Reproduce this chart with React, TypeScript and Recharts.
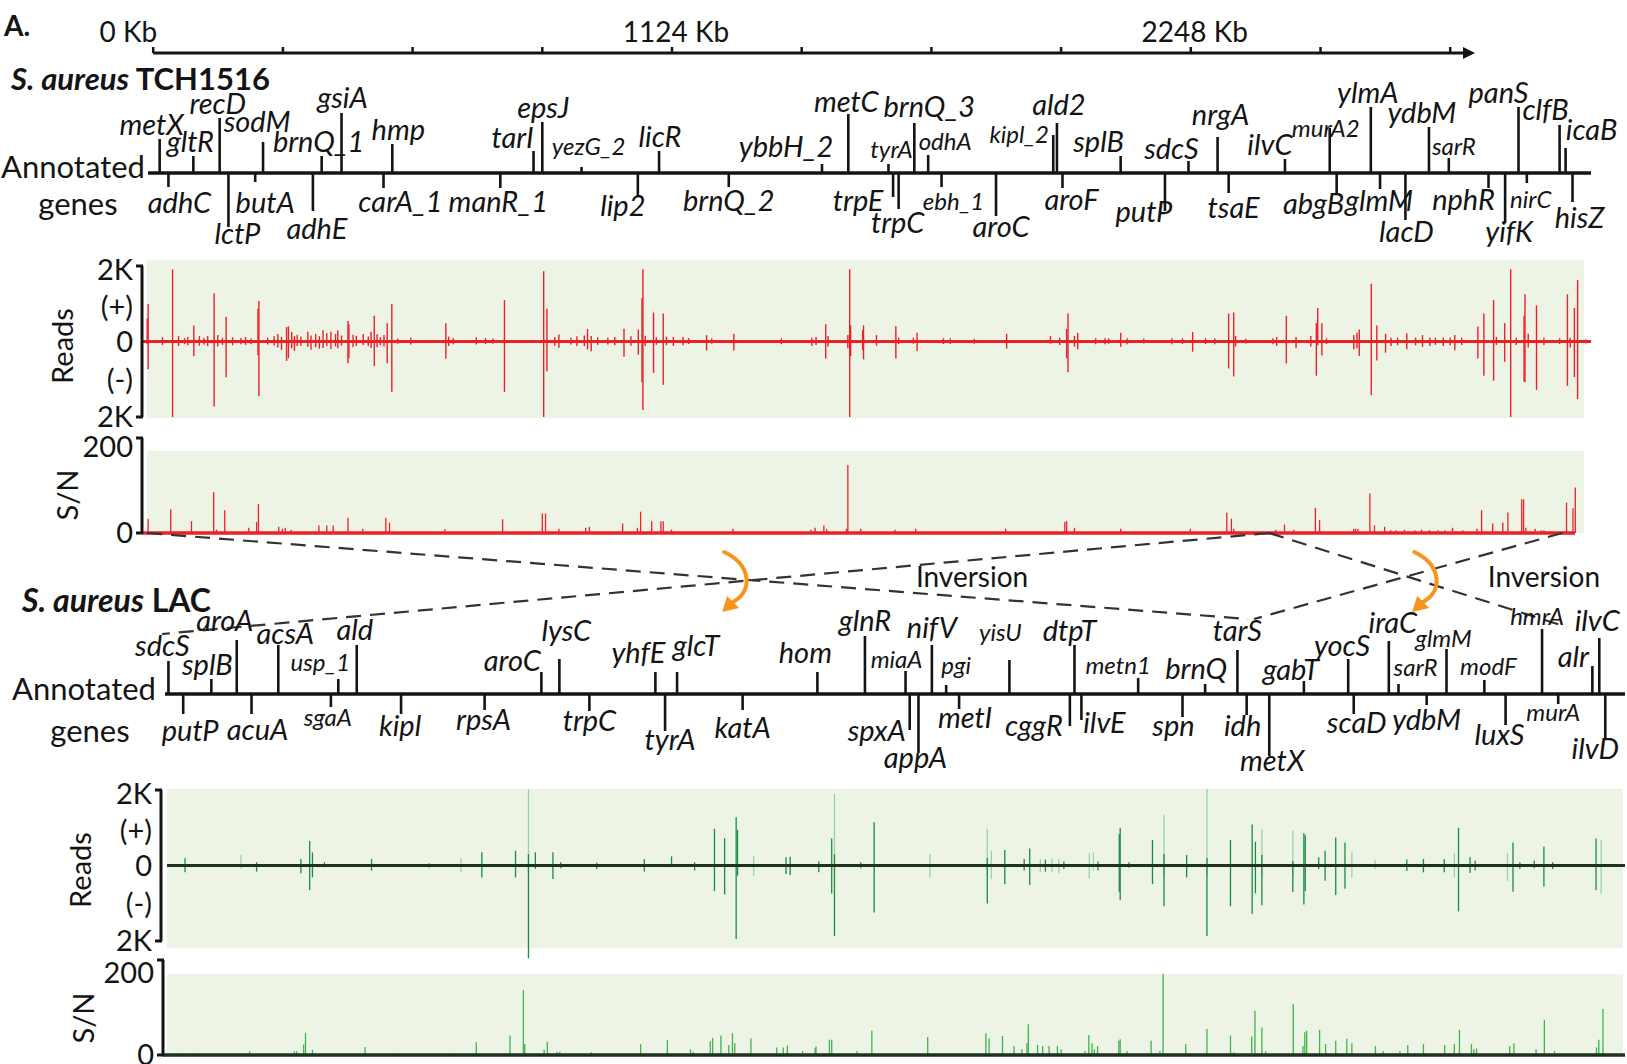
import React from 'react'
import {
  ComposedChart,
  XAxis,
  YAxis,
  Scatter,
  Line,
  ReferenceLine,
  ReferenceArea,
} from 'recharts'

const W = 1627
const H = 1064
const FONT = 'Lato, "Open Sans", "DejaVu Sans", sans-serif'
const INK = '#141414'
const BG = '#eef4e5'
const RED = '#ec2027'
const GREEN = '#178c45'
const GREEN_LIGHT = '#9ad2a6'
const GREEN_SN = '#3cb54b'
const LAC_ZERO = '#1e3224'
const ORANGE = '#f7941d'

// one ruler for the whole figure: 281 Kb between ticks, 0 Kb sits at x = 153.2
const KB_PER_PX = 281 / 129.7
const kbAt = (px: number) => (px - 153.2) * KB_PER_PX

// ---- ruler ----
const rulerTicks = [0, 281, 562, 843, 1124, 1405, 1686, 1967, 2248, 2529, 2810]
const rulerLabels = ['0 Kb', '', '', '', '1124 Kb', '', '', '', '2248 Kb', '', '']

// ---- S. aureus TCH1516 annotated genes (Kb on the ruler, 1 = above line, -1 = below) ----
const tchGeneNames = [
  'metX', 'gltR', 'recD', 'sodM', 'brnQ_1', 'gsiA', 'hmp', 'tarI', 'epsJ', 'yezG_2', 'licR',
  'ybbH_2', 'metC', 'tyrA', 'brnQ_3', 'odhA', 'kipl_2', 'ald2', 'splB', 'sdcS', 'nrgA', 'ilvC',
  'murA2', 'ylmA', 'ydbM', 'sarR', 'panS', 'clfB', 'icaB',
  'adhC', 'lctP', 'butA', 'adhE', 'carA_1', 'manR_1', 'lip2', 'brnQ_2', 'trpE', 'trpC', 'ebh_1',
  'aroC', 'aroF', 'putP', 'tsaE', 'abgB', 'glmM', 'lacD', 'nphR', 'yifK', 'nirC', 'hisZ',
]
const tchGeneKb = [
  14, 87, 144, 238, 365, 408, 518, 824, 843, 928, 1096,
  1449, 1506, 1593, 1649, 1679, 1950, 1958, 2096, 2243, 2306, 2452,
  2549, 2638, 2764, 2807, 2958, 3047, 3060,
  33, 163, 221, 346, 499, 752, 1050, 1247, 1603, 1615, 1708,
  1826, 1970, 2192, 2330, 2564, 2658, 2713, 2893, 2929, 2976, 3075,
]
const tchGeneStrand = [
  1, 1, 1, 1, 1, 1, 1, 1, 1, 1, 1,
  1, 1, 1, 1, 1, 1, 1, 1, 1, 1, 1,
  1, 1, 1, 1, 1, 1, 1,
  -1, -1, -1, -1, -1, -1, -1, -1, -1, -1, -1,
  -1, -1, -1, -1, -1, -1, -1, -1, -1, -1, -1,
]
// layout only: [stem px, label dx, label baseline dy, small font]
const tchGeneLayout: Record<string, [number, number, number, number?]> = {
  metX: [34, -8, -38], gltR: [17, -3, -21], recD: [55, -2, -59], sodM: [31, -6, -41],
  brnQ_1: [17, -3, -21], gsiA: [60, 1, -65], hmp: [29, 6, -33], tarI: [22, -21, -25],
  epsJ: [51, 1, -55], yezG_2: [6, 7, -18, 1], licR: [22, 1, -26], ybbH_2: [9, -36, -16],
  metC: [59, -2, -61], tyrA: [9, 3, -15, 1], brnQ_3: [50, 15, -56], odhA: [18, 17, -23, 1],
  kipl_2: [38, -34, -30, 1], ald2: [50, 2, -58], splB: [17, -22, -21], sdcS: [12, -17, -14],
  nrgA: [36, 3, -48], ilvC: [14, -15, -18], murA2: [45, -4, -36, 1], ylmA: [66, -3, -70],
  ydbM: [46, -7, -50], sarR: [15, 5, -18, 1], panS: [66, -20, -70], clfB: [48, -14, -53],
  icaB: [25, 26, -33],
  adhC: [14, 11, 40], lctP: [54, 9, 71], butA: [9, 10, 40], adhE: [38, 4, 66],
  carA_1: [15, 17, 39], manR_1: [15, -2, 39], lip2: [24, -15, 43], brnQ_2: [14, 0, 38],
  trpE: [24, -35, 38], trpC: [36, -1, 60], ebh_1: [14, 12, 37, 1], aroC: [43, 5, 64],
  aroF: [15, 9, 37], putP: [38, -21, 49], tsaE: [20, 5, 45], abgB: [20, -23, 41],
  glmM: [16, -1, 38], lacD: [47, 1, 69], nphR: [15, -25, 37], yifK: [50, 4, 69],
  nirC: [10, 4, 35, 1], hisZ: [29, 7, 55],
}

// ---- S. aureus LAC annotated genes ----
const lacGeneNames = [
  'sdcS', 'splB', 'aroA', 'acsA', 'usp_1', 'ald', 'aroC', 'lysC', 'yhfE', 'glcT', 'hom',
  'glnR', 'miaA', 'nifV', 'pgi', 'yisU', 'dtpT', 'metn1', 'brnQ', 'tarS', 'gabT', 'yocS',
  'iraC', 'sarR', 'glmM', 'modF', 'hmrA', 'alr', 'ilvC',
  'putP', 'acuA', 'sgaA', 'kipl', 'rpsA', 'trpC', 'tyrA', 'katA', 'spxA', 'appA', 'metI',
  'cggR', 'ilvE', 'spn', 'idh', 'metX', 'scaD', 'ydbM', 'luxS', 'murA', 'ilvD',
]
const lacGeneKb = [
  33, 126, 181, 271, 401, 441, 841, 880, 1088, 1135, 1439,
  1542, 1630, 1687, 1718, 1855, 1996, 2134, 2279, 2349, 2493, 2589,
  2677, 2698, 2802, 2884, 3009, 3118, 3133,
  65, 213, 385, 537, 718, 945, 1109, 1277, 1639, 1658, 1746,
  1986, 2011, 2230, 2369, 2418, 2601, 2759, 2930, 3044, 3146,
]
const lacGeneStrand = [
  1, 1, 1, 1, 1, 1, 1, 1, 1, 1, 1,
  1, 1, 1, 1, 1, 1, 1, 1, 1, 1, 1,
  1, 1, 1, 1, 1, 1, 1,
  -1, -1, -1, -1, -1, -1, -1, -1, -1, -1, -1,
  -1, -1, -1, -1, -1, -1, -1, -1, -1, -1,
]
const lacGeneLayout: Record<string, [number, number, number, number?]> = {
  sdcS: [33, -6, -38], splB: [15, -4, -19], aroA: [54, -12, -63], acsA: [49, 7, -50],
  usp_1: [15, -18, -23, 1], ald: [49, -2, -54], aroC: [22, -29, -23], lysC: [35, 7, -53],
  yhfE: [22, -17, -31], glcT: [22, 19, -38], hom: [22, -12, -31], glnR: [58, 0, -63],
  miaA: [23, -9, -26, 1], nifV: [49, 0, -56], pgi: [9, 10, -20, 1], yisU: [34, -9, -53, 1],
  dtpT: [49, -5, -53], metn1: [16, -20, -20, 1], brnQ: [10, -9, -15], tarS: [44, 0, -53],
  gabT: [13, -13, -14], yocS: [35, -6, -38], iraC: [53, 4, -61], sarR: [10, 17, -18, 1],
  glmM: [45, -3, -47, 1], modF: [14, 4, -19, 1], hmrA: [65, -5, -69, 1], alr: [28, -19, -27],
  ilvC: [56, -2, -63],
  putP: [20, 7, 47], acuA: [20, 6, 46], sgaA: [13, -3, 32, 1], kipl: [20, -1, 42],
  rpsA: [16, -1, 36], trpC: [17, 0, 37], tyrA: [37, 5, 56], katA: [16, 0, 44],
  spxA: [36, -33, 47], appA: [59, -3, 74], metI: [15, 6, 34], cggR: [32, -36, 42],
  ilvE: [26, 23, 39], spn: [23, -9, 42], idh: [21, -4, 42], metX: [62, 3, 77],
  scaD: [20, 3, 39], ydbM: [11, 0, 36], luxS: [31, -6, 51], murA: [10, -5, 27, 1],
  ilvD: [45, -10, 65],
}

// ---- TCH1516 reads: [Kb, reads (+), reads (-)] ----
const tchReads: [number, number, number][] = [
  [-13, 613, 73], [-11, 996, 734], [20, 110, 90], [42, 1906, 2000], [55, 150, 120], [68, 90, 70],
  [75, 120, 100], [88, 426, 394], [100, 140, 110], [110, 90, 80], [118, 150, 120], [132, 1277, 1725],
  [140, 170, 130], [150, 100, 90], [158, 655, 945], [172, 110, 100], [190, 90, 70], [200, 120, 90],
  [212, 80, 70], [227, 868, 367], [229, 1072, 1450], [248, 100, 80], [262, 140, 100], [270, 200, 160],
  [278, 120, 220], [289, 383, 514], [293, 400, 440], [300, 250, 180], [306, 150, 250], [312, 180, 120],
  [320, 130, 110], [335, 260, 140], [342, 160, 220], [352, 200, 150], [360, 140, 190], [368, 300, 170],
  [376, 220, 120], [385, 260, 200], [395, 200, 130], [400, 300, 180], [408, 160, 110], [422, 545, 578],
  [424, 460, 440], [433, 180, 150], [440, 150, 120], [455, 200, 90], [466, 130, 110], [472, 260, 170],
  [479, 681, 651], [485, 190, 150], [492, 110, 90], [500, 170, 130], [507, 485, 578], [517, 996, 1339],
  [530, 80, 60], [558, 100, 80], [634, 485, 459], [640, 130, 120], [650, 90, 70], [700, 110, 80],
  [720, 90, 70], [736, 80, 60], [761, 1098, 1339], [846, 1864, 2000], [853, 868, 789], [870, 120, 110],
  [879, 187, 165], [905, 100, 80], [918, 140, 120], [934, 160, 120], [941, 332, 211], [949, 145, 257],
  [963, 110, 90], [985, 100, 80], [1000, 120, 100], [1020, 340, 404], [1035, 140, 110], [1051, 315, 349],
  [1059, 1149, 1083], [1061, 1915, 1817], [1066, 150, 120], [1084, 766, 835], [1090, 110, 90],
  [1105, 740, 1147], [1112, 130, 100], [1127, 119, 119], [1148, 119, 100], [1160, 90, 70], [1199, 170, 239],
  [1210, 80, 60], [1258, 204, 239], [1361, 85, 73], [1427, 102, 117], [1436, 119, 92], [1457, 460, 448],
  [1462, 145, 135], [1505, 170, 179], [1509, 1915, 2000], [1511, 426, 386], [1537, 298, 233],
  [1539, 426, 475], [1567, 170, 110], [1609, 409, 448], [1615, 102, 70], [1647, 102, 60], [1655, 230, 251],
  [1712, 85, 70], [1727, 85, 70], [1779, 70, 60], [1849, 204, 188], [1944, 145, 60], [1964, 102, 90],
  [1979, 332, 448], [1982, 740, 816], [1996, 145, 135], [2003, 230, 206], [2042, 85, 70], [2062, 85, 70],
  [2070, 85, 60], [2096, 230, 143], [2110, 85, 70], [2146, 70, 50], [2207, 85, 70], [2230, 85, 70],
  [2252, 255, 269], [2280, 85, 70], [2300, 85, 70], [2330, 740, 717], [2341, 766, 924], [2345, 145, 135],
  [2367, 70, 50], [2426, 85, 70], [2434, 119, 120], [2455, 681, 583], [2476, 119, 179], [2508, 145, 135],
  [2520, 485, 906], [2523, 885, 100], [2532, 485, 368], [2542, 85, 70], [2601, 170, 206], [2608, 230, 179],
  [2613, 315, 386], [2639, 1532, 1417], [2651, 426, 502], [2670, 204, 296], [2682, 102, 117],
  [2696, 102, 100], [2716, 221, 206], [2735, 102, 100], [2750, 170, 143], [2766, 102, 117], [2778, 102, 90],
  [2795, 102, 117], [2810, 102, 100], [2820, 170, 233], [2835, 102, 90], [2870, 400, 448], [2883, 740, 906],
  [2904, 1098, 1040], [2910, 119, 90], [2928, 485, 538], [2941, 1915, 2000], [2953, 102, 90],
  [2970, 681, 1058], [2972, 1251, 1076], [2979, 204, 162], [2997, 953, 1283], [3013, 102, 90],
  [3047, 85, 70], [3064, 1251, 1175], [3070, 102, 162], [3079, 885, 942], [3086, 1634, 1525],
  [3104, 51, 50],
]

// ---- TCH1516 S/N: [Kb, S/N] ----
const tchSN: [number, number][] = [
  [-11, 30], [38, 50], [83, 25], [131, 86], [137, 7], [155, 48], [207, 11], [224, 23], [228, 61],
  [272, 13], [280, 9], [286, 11], [299, 7], [359, 16], [376, 16], [390, 16], [422, 32], [454, 9],
  [504, 32], [512, 22], [632, 8], [757, 29], [843, 41], [850, 41], [879, 9], [937, 11], [945, 13],
  [1017, 20], [1049, 11], [1056, 45], [1080, 25], [1100, 25], [1105, 25], [1123, 7], [1256, 9],
  [1425, 7], [1434, 11], [1453, 16], [1459, 8], [1502, 9], [1505, 143], [1533, 9], [1607, 7],
  [1652, 9], [1847, 9], [1975, 23], [1979, 25], [1996, 11], [2096, 9], [2247, 9], [2326, 43],
  [2336, 30], [2341, 9], [2432, 7], [2451, 18], [2471, 7], [2518, 53], [2527, 27], [2601, 9],
  [2605, 9], [2610, 9], [2636, 83], [2646, 16], [2668, 13], [2681, 6], [2693, 6], [2711, 7],
  [2733, 6], [2748, 7], [2765, 6], [2784, 6], [2798, 6], [2815, 11], [2837, 6], [2868, 9],
  [2878, 48], [2902, 20], [2924, 22], [2935, 43], [2965, 71], [2969, 71], [2974, 11], [2994, 9],
  [3007, 6], [3013, 6], [3062, 64], [3076, 52], [3081, 96],
]

// ---- LAC reads: [Kb, reads (+), reads (-)], strong and faint strokes ----
const lacReadsDark: [number, number, number][] = [
  [69, 191, 180], [224, 87, 162], [320, 174, 207], [339, 652, 649], [345, 348, 315], [371, 87, 45],
  [473, 174, 135], [598, 60, 50], [712, 348, 315], [785, 391, 315], [813, 300, 2459], [828, 348, 90],
  [866, 348, 360], [883, 87, 72], [961, 70, 90], [1064, 174, 162], [1123, 243, 45], [1173, 87, 135],
  [1216, 974, 676], [1238, 722, 766], [1263, 1278, 1946], [1266, 939, 270], [1371, 217, 225],
  [1380, 235, 252], [1442, 113, 180], [1470, 713, 739], [1476, 300, 1865], [1533, 87, 72],
  [1562, 1148, 1243], [1807, 200, 1009], [1845, 409, 495], [1887, 174, 135], [1899, 452, 514],
  [1933, 157, 162], [1973, 104, 90], [2047, 104, 135], [2093, 826, 694], [2095, 1000, 919],
  [2114, 87, 60], [2165, 678, 495], [2190, 304, 1081], [2239, 278, 315], [2283, 200, 1865],
  [2334, 678, 1081], [2381, 1087, 1279], [2388, 626, 739], [2402, 278, 1054], [2469, 120, 703],
  [2493, 852, 1036], [2496, 800, 676], [2525, 217, 90], [2539, 391, 405], [2562, 739, 784],
  [2582, 609, 613], [2716, 157, 144], [2752, 174, 180], [2797, 174, 180], [2828, 1000, 1216],
  [2853, 217, 198], [2864, 130, 135], [2946, 609, 694], [2961, 87, 90], [2992, 130, 72],
  [3013, 504, 559], [3032, 87, 90], [3126, 713, 649],
]
const lacReadsLight: [number, number, number][] = [
  [190, 280, 80], [667, 191, 180], [813, 2026, 200], [1301, 261, 270], [1476, 1896, 200],
  [1683, 304, 324], [1807, 974, 300], [1816, 391, 360], [1922, 174, 180], [1947, 174, 180],
  [1962, 157, 198], [2028, 322, 342], [2037, 348, 120], [2190, 1348, 300], [2283, 2026, 300],
  [2402, 957, 300], [2469, 930, 300], [2597, 365, 324], [2647, 157, 108], [2819, 322, 315],
  [2934, 330, 405], [3137, 670, 748],
]

// ---- LAC S/N: [Kb, S/N] ----
const lacSN: [number, number][] = [
  [54, 4], [99, 4], [209, 8], [306, 8], [311, 8], [326, 22], [330, 46], [345, 11], [459, 17],
  [521, 4], [654, 4], [700, 27], [773, 41], [802, 137], [805, 23], [847, 11], [854, 28], [875, 7],
  [881, 7], [949, 6], [1056, 23], [1114, 32], [1164, 12], [1170, 7], [1207, 29], [1212, 36],
  [1230, 41], [1247, 21], [1255, 46], [1260, 25], [1295, 35], [1351, 16], [1365, 16], [1374, 20],
  [1407, 8], [1434, 15], [1436, 18], [1465, 32], [1470, 32], [1525, 8], [1557, 51], [1678, 38],
  [1804, 46], [1811, 35], [1840, 40], [1865, 19], [1882, 12], [1893, 25], [1896, 65], [1916, 21],
  [1927, 19], [1941, 19], [1959, 19], [1967, 12], [2019, 8], [2027, 42], [2034, 25], [2039, 12],
  [2046, 19], [2092, 30], [2095, 33], [2110, 8], [2162, 30], [2181, 8], [2188, 171], [2237, 23],
  [2283, 55], [2334, 41], [2341, 6], [2380, 39], [2387, 93], [2402, 58], [2410, 8], [2470, 107],
  [2491, 19], [2495, 48], [2499, 51], [2527, 53], [2540, 23], [2562, 30], [2586, 34], [2597, 25],
  [2648, 19], [2665, 8], [2701, 8], [2718, 21], [2733, 4], [2752, 23], [2798, 21], [2819, 23],
  [2830, 53], [2856, 23], [2861, 12], [2867, 14], [2939, 19], [2948, 25], [2996, 12], [3014, 74],
  [3036, 8], [3127, 16], [3132, 32], [3141, 97],
]

// ---- genome rearrangement: TCH1516 Kb -> LAC Kb ----
const linkTchKb = [-13, 2418, 2418, 3053]
const linkLacKb = [2372, 19, 3063, 2385]
const linkDrop = [94, 109, 102, 94] // layout: px below the top of the link band
const inversionArrowKb = [1237, 2732]
const inversionLabelKb = [1774, 3013]

const buildGenes = (
  names: string[],
  kb: number[],
  strand: number[],
  layout: Record<string, [number, number, number, number?]>,
) =>
  names.map((name, i) => {
    const [stem, dx, ly, small] = layout[name]
    return { name, kb: kb[i], y: 0, strand: strand[i], stem, dx, ly, size: small ? 24 : 29 }
  })

const tchGenes = buildGenes(tchGeneNames, tchGeneKb, tchGeneStrand, tchGeneLayout)
const lacGenes = buildGenes(lacGeneNames, lacGeneKb, lacGeneStrand, lacGeneLayout)

function GeneMark(props: any) {
  const { cx, cy, payload } = props
  const { stem, dx, ly, size, strand, name } = payload
  return (
    <g>
      <line x1={cx} y1={cy} x2={cx} y2={cy - strand * stem} stroke={INK} strokeWidth={2.6} />
      <text x={cx + dx} y={cy + ly} textAnchor="middle" fontStyle="italic" fontSize={size} fill={INK}>
        {name}
      </text>
    </g>
  )
}

function GeneTrack({ top, height, x0, x1, genes }: any) {
  return (
    <div style={{ position: 'absolute', left: 0, top }}>
      <ComposedChart width={W} height={height} margin={{ top: 0, right: W - x1, bottom: 0, left: x0 }}>
        <XAxis type="number" dataKey="kb" domain={[kbAt(x0), kbAt(x1)]} hide />
        <YAxis type="number" dataKey="y" domain={[-1, 1]} hide />
        <ReferenceLine y={0} stroke={INK} strokeWidth={3.5} />
        <Scatter data={genes} shape={GeneMark} isAnimationActive={false} />
      </ComposedChart>
    </div>
  )
}

function BracketTick({ x, y, payload, labels, edges, shift }: any) {
  const v = payload.value
  return (
    <g>
      {edges.includes(v) && <line x1={x + 3} x2={x + 10} y1={y} y2={y} stroke={INK} strokeWidth={3} />}
      <text x={x} y={y + (shift[v] || 0)} dy="0.36em" textAnchor="end" fontSize={29} fill={INK}>
        {labels[v]}
      </text>
    </g>
  )
}

const YW = 60
const PAD = 22
const readsLabels: Record<string, string> = { '2000': '2K', '1000': '(+)', '0': '0', '-1000': '(-)', '-2000': '2K' }
const snLabels: Record<string, string> = { '200': '200', '0': '0' }

function ReadsPanel({ plotTop, x0, x1, bgX, bgY, layers, zeroColor, zeroX }: any) {
  return (
    <div style={{ position: 'absolute', left: 0, top: plotTop - PAD }}>
      <ComposedChart width={W} height={PAD + 151 + 26} margin={{ top: PAD, right: W - x1, bottom: 26, left: x0 - YW }}>
        <XAxis type="number" dataKey="kb" domain={[kbAt(x0), kbAt(x1)]} hide allowDataOverflow />
        <YAxis
          type="number"
          domain={[-2000, 2000]}
          ticks={[2000, 1000, 0, -1000, -2000]}
          interval={0}
          width={YW}
          allowDataOverflow
          axisLine={{ stroke: INK, strokeWidth: 3 }}
          tickLine={false}
          tickSize={5}
          tickMargin={4}
          tick={(p: any) => (
            <BracketTick {...p} labels={readsLabels} edges={[2000, -2000]} shift={{ '2000': 4, '1000': 3 }} />
          )}
        />
        <ReferenceArea
          x1={kbAt(bgX[0])}
          x2={kbAt(bgX[1])}
          y1={bgY[0]}
          y2={bgY[1]}
          fill={BG}
          fillOpacity={1}
          stroke="none"
          ifOverflow="visible"
        />
        {layers.map((layer: any, li: number) =>
          layer.data.map(([kb, plus, minus]: [number, number, number], i: number) => (
            <ReferenceLine
              key={`${li}-${i}`}
              segment={[{ x: kb, y: -minus }, { x: kb, y: plus }]}
              stroke={layer.color}
              strokeWidth={layer.width}
              ifOverflow="visible"
            />
          )),
        )}
        <ReferenceLine
          segment={[{ x: kbAt(zeroX[0]), y: 0 }, { x: kbAt(zeroX[1]), y: 0 }]}
          stroke={zeroColor}
          strokeWidth={3.2}
          ifOverflow="visible"
        />
      </ComposedChart>
    </div>
  )
}

function SnPanel({ plotTop, x0, x1, bgX, bgTop, data, color, zeroColor, zeroX, bottom, topShift }: any) {
  return (
    <div style={{ position: 'absolute', left: 0, top: plotTop - PAD }}>
      <ComposedChart width={W} height={PAD + 95 + bottom} margin={{ top: PAD, right: W - x1, bottom, left: x0 - YW }}>
        <XAxis type="number" dataKey="kb" domain={[kbAt(x0), kbAt(x1)]} hide allowDataOverflow />
        <YAxis
          type="number"
          domain={[0, 200]}
          ticks={[0, 200]}
          interval={0}
          width={YW}
          allowDataOverflow
          axisLine={{ stroke: INK, strokeWidth: 3 }}
          tickLine={false}
          tickSize={5}
          tickMargin={4}
          tick={(p: any) => <BracketTick {...p} labels={snLabels} edges={[0, 200]} shift={{ '200': topShift }} />}
        />
        <ReferenceArea
          x1={kbAt(bgX[0])}
          x2={kbAt(bgX[1])}
          y1={0}
          y2={bgTop}
          fill={BG}
          fillOpacity={1}
          stroke="none"
          ifOverflow="visible"
        />
        {data.map(([kb, v]: [number, number], i: number) => (
          <ReferenceLine
            key={i}
            segment={[{ x: kb, y: 0 }, { x: kb, y: v }]}
            stroke={color}
            strokeWidth={1.3}
            ifOverflow="visible"
          />
        ))}
        <ReferenceLine
          segment={[{ x: kbAt(zeroX[0]), y: 0 }, { x: kbAt(zeroX[1]), y: 0 }]}
          stroke={zeroColor}
          strokeWidth={3.4}
          ifOverflow="visible"
        />
      </ComposedChart>
    </div>
  )
}

function RulerTick({ x, y, payload }: any) {
  const idx = rulerTicks.indexOf(payload.value)
  const label = rulerLabels[idx]
  if (!label) return null
  return (
    <text x={x + 4} y={y} textAnchor={idx === 0 ? 'end' : 'middle'} fontSize={28} fill={INK}>
      {label}
    </text>
  )
}

function ArrowHead(props: any) {
  const { cx, cy } = props
  return <polygon points={`${cx - 3},${cy - 6} ${cx + 9},${cy} ${cx - 3},${cy + 6}`} fill={INK} />
}

function OrangeArrow(props: any) {
  const { cx, cy } = props
  return (
    <g transform={`translate(${cx},${cy})`}>
      <path d="M0,0 C26,12 30,38 9,50" fill="none" stroke={ORANGE} strokeWidth={4} strokeLinecap="round" />
      <polygon points="15,56 3,44 -2,60" fill={ORANGE} />
    </g>
  )
}

function InversionLabel(props: any) {
  const { cx, cy } = props
  return (
    <text x={cx} y={cy} textAnchor="middle" fontSize={28} fill={INK}>
      Inversion
    </text>
  )
}

const rulerEnd = kbAt(1466)

export default function App() {
  const linkData = linkTchKb.map((from, i) => [
    { x: from, y: 8 },
    { x: linkLacKb[i], y: linkDrop[i] },
  ])
  const arrowMarks = inversionArrowKb.map((kb) => ({ x: kb, y: 27 }))
  const labelMarks = inversionLabelKb.map((kb) => ({ x: kb, y: 62 }))

  return (
    <div style={{ position: 'absolute', left: 0, top: 0, width: W, height: H, background: '#fff', fontFamily: FONT, overflow: 'hidden' }}>
      {/* ruler */}
      <div style={{ position: 'absolute', left: 0, top: 0 }}>
        <ComposedChart width={W} height={70} margin={{ top: 13, right: W - 1466, bottom: 0, left: 153.2 }}>
          <XAxis
            type="number"
            dataKey="kb"
            orientation="top"
            height={40}
            domain={[0, rulerEnd]}
            ticks={rulerTicks}
            interval={0}
            axisLine={{ stroke: INK, strokeWidth: 3 }}
            tickLine={{ stroke: INK, strokeWidth: 2.5 }}
            tickSize={6}
            tickMargin={5}
            tick={(p: any) => <RulerTick {...p} />}
          />
          <YAxis type="number" dataKey="y" domain={[0, 1]} hide />
          <Scatter data={[{ kb: rulerEnd, y: 1 }]} shape={ArrowHead} isAnimationActive={false} />
        </ComposedChart>
      </div>

      <GeneTrack top={60} height={226} x0={148} x1={1591} genes={tchGenes} />

      <ReadsPanel
        plotTop={266}
        x0={142}
        x1={1592}
        bgX={[147, 1584]}
        bgY={[-2030, 2160]}
        layers={[{ data: tchReads, color: RED, width: 1.4 }]}
        zeroColor={RED}
        zeroX={[141, 1591]}
      />
      <SnPanel
        plotTop={438}
        x0={142}
        x1={1592}
        bgX={[147, 1584]}
        bgTop={173}
        data={tchSN}
        color={RED}
        zeroColor={RED}
        zeroX={[142, 1575]}
        bottom={22}
        topShift={9}
      />

      {/* rearrangement links */}
      <div style={{ position: 'absolute', left: 0, top: 525 }}>
        <ComposedChart width={W} height={120} margin={{ top: 0, right: 0, bottom: 0, left: 0 }}>
          <XAxis type="number" dataKey="x" domain={[kbAt(0), kbAt(W)]} hide />
          <YAxis type="number" dataKey="y" domain={[0, 120]} reversed hide />
          {linkData.map((d, i) => (
            <Line
              key={i}
              data={d}
              dataKey="y"
              type="linear"
              stroke="#333"
              strokeWidth={2.2}
              strokeDasharray="15 9"
              dot={false}
              isAnimationActive={false}
            />
          ))}
          <Scatter data={arrowMarks} shape={OrangeArrow} isAnimationActive={false} />
          <Scatter data={labelMarks} shape={InversionLabel} isAnimationActive={false} />
        </ComposedChart>
      </div>

      <GeneTrack top={574} height={240} x0={165} x1={1625} genes={lacGenes} />

      <ReadsPanel
        plotTop={790}
        x0={161}
        x1={1626}
        bgX={[167, 1623]}
        bgY={[-2185, 2030]}
        layers={[
          { data: lacReadsLight, color: GREEN_LIGHT, width: 1.3 },
          { data: lacReadsDark, color: GREEN, width: 1.3 },
        ]}
        zeroColor={LAC_ZERO}
        zeroX={[167, 1625]}
      />
      <SnPanel
        plotTop={960}
        x0={163}
        x1={1626}
        bgX={[167, 1623]}
        bgTop={170}
        data={lacSN}
        color={GREEN_SN}
        zeroColor={LAC_ZERO}
        zeroX={[163, 1625]}
        bottom={9}
        topShift={13}
      />

      {/* static text */}
      <svg width={W} height={H} style={{ position: 'absolute', left: 0, top: 0, pointerEvents: 'none' }}>
        <g fill={INK}>
          <text x={4} y={36} fontSize={28} fontWeight="bold">A.</text>
          <text x={11} y={90} fontSize={31} fontWeight="bold">
            <tspan fontStyle="italic">S. aureus</tspan> TCH1516
          </text>
          <text x={1} y={178} fontSize={31}>Annotated</text>
          <text x={78} y={215} fontSize={31} textAnchor="middle">genes</text>
          <text transform="translate(63,346) rotate(-90)" textAnchor="middle" dy="0.36em" fontSize={29}>Reads</text>
          <text transform="translate(68,495) rotate(-90)" textAnchor="middle" dy="0.36em" fontSize={29}>S/N</text>
          <text x={22} y={612} fontSize={32} fontWeight="bold">
            <tspan fontStyle="italic">S. aureus</tspan> LAC
          </text>
          <text x={12} y={700} fontSize={31}>Annotated</text>
          <text x={90} y={742} fontSize={31} textAnchor="middle">genes</text>
          <text transform="translate(81,870) rotate(-90)" textAnchor="middle" dy="0.36em" fontSize={29}>Reads</text>
          <text transform="translate(84,1018) rotate(-90)" textAnchor="middle" dy="0.36em" fontSize={29}>S/N</text>
        </g>
      </svg>
    </div>
  )
}
